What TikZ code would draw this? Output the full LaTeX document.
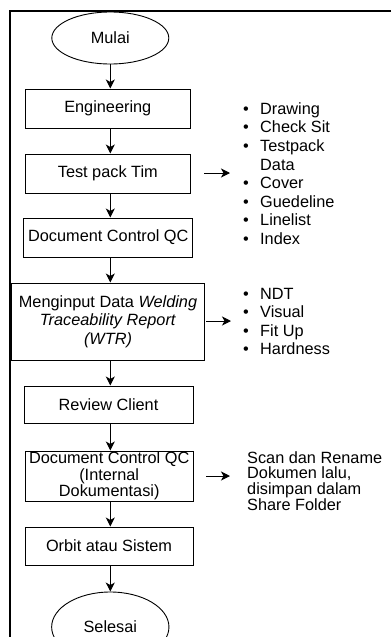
\documentclass[tikz,border=0pt]{standalone}
\usepackage{fontspec}
\setmainfont{Liberation Sans}
\usetikzlibrary{shapes.geometric,arrows.meta}
\newcommand\dgfont{\fontsize{16.3}{18.6}\selectfont}
\newcommand\bl{\makebox[17pt][l]{\textbullet}}
\begin{document}
\begin{tikzpicture}[x=1pt,y=-1pt,
  box/.style={draw, line width=1pt, inner sep=0pt, align=center, font=\dgfont},
  term/.style={draw, ellipse, line width=0.9pt, inner sep=0pt, font=\dgfont},
  arr/.style={line width=1pt, -{Stealth[length=9pt,width=9pt,inset=2.5pt]}},
  lst/.style={anchor=base west, inner sep=0pt, align=left, font=\dgfont}]
\useasboundingbox (0,0) rectangle (391,637);
\draw[line width=1.6pt] (391,11) -- (10,11) -- (10,637);
\node[term, minimum width=117, minimum height=52] (m) at (110.3,38) {Mulai};
\node[box, minimum width=165.5, minimum height=39] (e) at (107.8,108.5) {Engineering};
\node[box, minimum width=165.5, minimum height=39] (t) at (107.8,173.5) {Test pack Tim};
\node[box, minimum width=168.7, minimum height=39] (d) at (108.3,237.5) {Document Control QC};
\node[box, minimum width=192.6, minimum height=77] (w) at (108,321.5) {Menginput Data \textit{Welding}\\\textit{Traceability Report}\\\textit{(WTR)}};
\node[box, minimum width=169, minimum height=37] (r) at (108.5,404.5) {Review Client};
\node[box, minimum width=168.3, minimum height=50, font=\fontsize{16.3}{16.5}\selectfont] (i) at (109.2,476) {Document Control QC\\(Internal\\Dokumentasi)};
\node[box, minimum width=168, minimum height=38] (o) at (109,546) {Orbit atau Sistem};
\node[term, minimum width=117.3, minimum height=70] (s) at (110.3,627) {Selesai};
\foreach \a/\b in {m/e,e/t,t/d,d/w,w/r,r/i,i/o,o/s}
  \draw[arr] (\a.south -| m) -- (\b.north -| m);
\coordinate (t1) at (204,173); \coordinate (t2) at (230,173);
\coordinate (w1) at (206,321); \coordinate (w2) at (231,321);
\coordinate (i1) at (206,476); \coordinate (i2) at (230,476);
\draw[arr] (t1) -- (t2);
\draw[arr] (w1) -- (w2);
\draw[arr] (i1) -- (i2);
\node[lst] (l1) at (243,244.5) {\bl Drawing\\\bl Check Sit\\\bl Testpack\\\hspace*{17pt}Data\\\bl Cover\\\bl Guedeline\\\bl Linelist\\\bl Index};
\node[lst] (l2) at (243,354.8) {\bl NDT\\\bl Visual\\\bl Fit Up\\\bl Hardness};
\node[lst, font=\fontsize{16.3}{15.6}\selectfont] (l3) at (247,510.1) {Scan dan Rename\\Dokumen lalu,\\disimpan dalam\\Share Folder};
\end{tikzpicture}
\end{document}
